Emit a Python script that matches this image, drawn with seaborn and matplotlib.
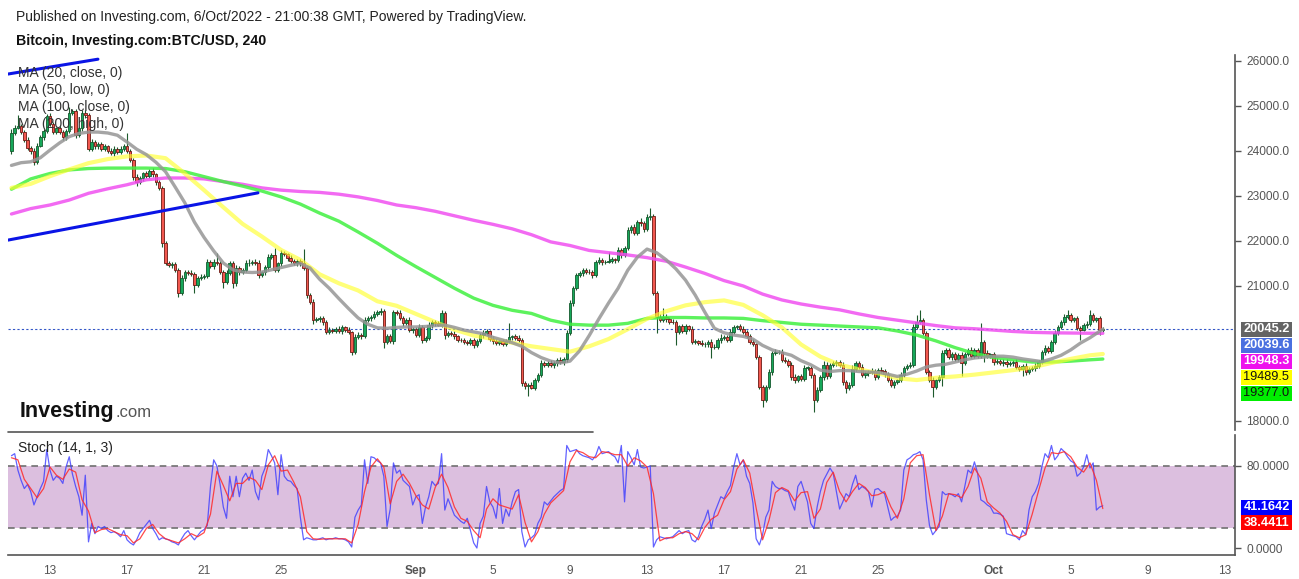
import numpy as np
import pandas as pd
import matplotlib
matplotlib.use("Agg")
import matplotlib.pyplot as plt
import matplotlib.dates as mdates
from matplotlib.patches import Rectangle
from matplotlib.lines import Line2D
import seaborn as sns

# ---------------- DATA ----------------
first_open = 24000
closes = [
    24400, 24520, 24560, 24430, 24250, 24060, 24000, 23760, 24120, 24300,
    24450, 24780, 24600, 24430, 24500, 24420, 24300, 24450, 24850, 24880,
    24350, 24500, 24850, 24800, 24050, 24200, 24100, 24150, 24050, 24100,
    24000, 23950, 24050, 23980, 24050, 24100, 24000, 23800, 23420, 23300,
    23400, 23500, 23450, 23550, 23480, 23300, 23180, 21950, 21510, 21470,
    21480, 21360, 20840, 21180, 21310, 21290, 21270, 21020, 21180, 21210,
    21220, 21530, 21440, 21540, 21520, 21310, 21090, 21290, 21510, 21060,
    21400, 21300, 21360, 21510, 21510, 21540, 21520, 21240, 21300, 21420,
    21640, 21690, 21360, 21500, 21730, 21700, 21620, 21560, 21500, 21550,
    21500, 21400, 20800, 20640, 20240, 20260, 20290, 20200, 19980, 20020,
    20010, 20040, 20000, 20080, 20030, 19970, 19530, 19870, 19920, 19890,
    20240, 20280, 20310, 20380, 20420, 20440, 19760, 19880, 19770, 20420,
    20400, 20290, 20180, 20250, 20020, 20040, 19910, 20090, 19800, 19850,
    20130, 20200, 20170, 20140, 20400, 19910, 19960, 19930, 19880, 19800,
    19790, 19760, 19730, 19790, 19690, 19780, 19900, 19960, 19990, 19820,
    19780, 19730, 19770, 19720, 19770, 19860, 19880, 19850, 19800, 18840,
    18770, 18800, 18740, 18910, 19020, 19290, 19250, 19290, 19240, 19280,
    19360, 19310, 19370, 19950, 20620, 20960, 21240, 21280, 21360, 21320,
    21300, 21240, 21530, 21580, 21530, 21540, 21560, 21590, 21570, 21800,
    21690, 21840, 22240, 22310, 22180, 22420, 22390, 22260, 22530, 22560,
    20840, 20310, 20240, 20320, 20260, 20210, 20190, 19980, 20100, 19990,
    20100, 20050, 19760, 19770, 19730, 19700, 19700, 19760, 19640, 19650,
    19800, 19850, 19860, 19810, 19980, 20090, 20100, 20050, 19980, 19890,
    19760, 19700, 19420, 18760, 18470, 18760, 19090, 19510, 19530, 19540,
    19360, 19340, 19250, 18980, 18900, 18990, 18940, 19180, 19180, 19020,
    18470, 18690, 18980, 19250, 18990, 19250, 19280, 19310, 19250, 18870,
    18730, 18800, 19160, 19290, 19200, 19020, 19060, 19090, 19110, 18980,
    19130, 19100, 19040, 18910, 18800, 18870, 18900, 19030, 19180, 19220,
    19250, 20090, 20200, 20240, 19960, 19090, 18910, 18760, 18900, 18980,
    19510, 19580, 19420, 19480, 19380, 19470, 19290, 19480, 19580, 19450,
    19580, 19450, 19760, 19510, 19450, 19480, 19310, 19340, 19290, 19320,
    19260, 19280, 19310, 19200, 19150, 19220, 19090, 19150, 19180, 19220,
    19310, 19530, 19620, 19560, 19760, 19960, 20090, 20200, 20310, 20360,
    20250, 20280, 20070, 20030, 20130, 20160, 20360, 20250, 20280, 20020, 20045.2,
]
# wick extensions beyond the body, in tens of dollars
wick_up = [
    8, 6, 24, 5, 4, 6, 5, 7, 5, 6,
    4, 5, 6, 5, 4, 6, 5, 4, 13, 6,
    5, 4, 6, 5, 4, 6, 5, 4, 6, 5,
    4, 6, 5, 4, 5, 6, 30, 4, 5, 6,
    5, 4, 6, 5, 7, 4, 5, 4, 5, 4,
    6, 5, 4, 6, 5, 4, 6, 5, 4, 6,
    5, 8, 4, 6, 19, 4, 5, 6, 4, 5,
    6, 5, 4, 6, 10, 4, 5, 6, 4, 5,
    6, 5, 15, 4, 6, 5, 4, 6, 5, 4,
    5, 32, 4, 5, 6, 4, 5, 4, 5, 6,
    4, 5, 6, 5, 4, 5, 4, 6, 5, 4,
    6, 5, 4, 6, 5, 8, 4, 5, 6, 5,
    4, 6, 5, 4, 6, 5, 4, 6, 5, 4,
    6, 5, 4, 6, 7, 5, 4, 5, 6, 4,
    5, 6, 4, 5, 6, 4, 5, 6, 5, 4,
    6, 5, 4, 6, 5, 32, 4, 6, 5, 4,
    5, 4, 6, 5, 4, 6, 5, 4, 6, 5,
    4, 6, 5, 8, 6, 5, 4, 6, 5, 4,
    6, 5, 4, 6, 5, 4, 20, 5, 4, 6,
    5, 4, 8, 5, 6, 4, 9, 5, 6, 17,
    4, 5, 6, 19, 5, 4, 6, 5, 4, 6,
    5, 4, 6, 5, 4, 6, 5, 4, 6, 5,
    4, 8, 5, 4, 6, 5, 4, 6, 5, 4,
    5, 6, 4, 5, 4, 5, 6, 5, 8, 4,
    5, 6, 4, 5, 6, 4, 5, 6, 5, 4,
    5, 6, 4, 8, 5, 4, 6, 5, 4, 5,
    5, 6, 9, 5, 4, 6, 5, 4, 6, 5,
    4, 6, 5, 4, 6, 5, 4, 6, 5, 4,
    5, 6, 16, 23, 5, 4, 5, 6, 4, 5,
    6, 5, 4, 6, 5, 4, 6, 5, 4, 6,
    5, 4, 42, 5, 6, 4, 5, 6, 4, 5,
    6, 5, 4, 6, 5, 4, 6, 5, 4, 6,
    5, 4, 6, 5, 4, 6, 5, 4, 6, 11,
    5, 4, 6, 5, 4, 6, 11, 5, 4, 6, 4,
]
wick_dn = [
    6, 5, 4, 6, 5, 4, 6, 8, 5, 4,
    5, 6, 4, 5, 6, 4, 5, 6, 4, 5,
    6, 4, 5, 6, 5, 4, 6, 5, 4, 6,
    5, 4, 6, 5, 4, 6, 5, 4, 6, 8,
    4, 6, 5, 4, 6, 5, 4, 8, 5, 4,
    6, 5, 9, 4, 6, 5, 4, 18, 5, 4,
    6, 5, 4, 6, 5, 4, 13, 5, 4, 10,
    5, 6, 4, 5, 6, 4, 5, 6, 4, 5,
    6, 5, 4, 6, 5, 4, 6, 5, 4, 6,
    5, 4, 6, 5, 8, 4, 5, 6, 4, 5,
    6, 5, 4, 6, 5, 4, 6, 5, 4, 6,
    5, 4, 6, 5, 4, 6, 14, 5, 4, 6,
    5, 4, 6, 5, 4, 6, 5, 4, 6, 5,
    4, 6, 5, 4, 6, 8, 5, 4, 6, 5,
    4, 6, 5, 4, 6, 5, 4, 6, 5, 4,
    6, 5, 4, 6, 5, 4, 6, 5, 4, 6,
    5, 22, 4, 6, 5, 4, 6, 5, 4, 6,
    5, 4, 6, 5, 4, 6, 5, 4, 6, 5,
    4, 6, 5, 4, 6, 5, 4, 6, 5, 4,
    6, 5, 4, 6, 5, 4, 6, 5, 4, 6,
    4, 35, 5, 4, 6, 5, 4, 29, 5, 4,
    6, 5, 4, 6, 5, 4, 6, 5, 24, 4,
    5, 6, 4, 5, 6, 4, 5, 6, 4, 5,
    6, 4, 5, 6, 16, 5, 4, 6, 5, 4,
    6, 5, 4, 8, 5, 4, 6, 5, 4, 6,
    27, 5, 4, 6, 5, 4, 6, 5, 4, 8,
    11, 5, 4, 6, 5, 4, 6, 5, 4, 6,
    5, 4, 6, 5, 4, 6, 5, 4, 6, 5,
    4, 6, 5, 4, 6, 5, 4, 23, 5, 4,
    20, 5, 4, 6, 5, 4, 30, 5, 4, 6,
    5, 4, 6, 20, 5, 4, 6, 5, 4, 6,
    5, 4, 6, 5, 4, 14, 6, 5, 4, 6,
    5, 4, 6, 5, 4, 6, 5, 4, 6, 5,
    4, 6, 5, 23, 4, 6, 5, 4, 6, 11, 4,
]
# moving averages (daily samples; gray MA20 every 12 h), last value = latest bar
ma200_high = [
    22600, 22720, 22800, 22910, 23060, 23160, 23250, 23360, 23400, 23400,
    23380, 23320, 23260, 23180, 23130, 23100, 23080, 23040, 22980, 22900,
    22800, 22740, 22660, 22560, 22460, 22370, 22270, 22140, 21980, 21900,
    21790, 21740, 21690, 21630, 21550, 21420, 21280, 21120, 21000, 20820,
    20690, 20600, 20530, 20470, 20380, 20300, 20240, 20180, 20120, 20070,
    20050, 20020, 19990, 19970, 19960, 19955, 19950, 19948.3,
]
ma100_close = [
    23150, 23380, 23500, 23580, 23610, 23620, 23620, 23620, 23610, 23540,
    23430, 23320, 23220, 23110, 22980, 22820, 22620, 22440, 22200, 21950,
    21680, 21430, 21190, 20950, 20730, 20570, 20460, 20390, 20240, 20150,
    20130, 20130, 20170, 20280, 20300, 20300, 20290, 20290, 20280, 20230,
    20190, 20150, 20130, 20110, 20090, 20070, 20000, 19910, 19780, 19630,
    19500, 19410, 19360, 19310, 19310, 19330, 19360, 19377.0,
]
ma50_low = [
    23180, 23270, 23440, 23590, 23730, 23820, 23880, 23900, 23840, 23500,
    23130, 22750, 22380, 22100, 21800, 21580, 21260, 21060, 20900, 20660,
    20560, 20380, 20200, 20030, 19900, 19820, 19740, 19660, 19600, 19540,
    19660, 19820, 20040, 20270, 20440, 20570, 20640, 20680, 20580, 20350,
    20080, 19700, 19430, 19250, 19150, 19060, 18950, 18910, 18960, 18990,
    19030, 19080, 19130, 19190, 19290, 19380, 19460, 19489.5,
]
ma20_close = [
    23680, 23740, 23760, 23850, 24020, 24180, 24320, 24390, 24420, 24420,
    24400, 24350, 24200, 24040, 23920, 23750, 23540, 23200, 22850, 22420,
    22080, 21780, 21510, 21360, 21310, 21300, 21310, 21360, 21410, 21460,
    21500, 21400, 21150, 20950, 20720, 20500, 20290, 20150, 20070, 20060,
    20080, 20090, 20090, 20100, 20120, 20130, 20080, 20020, 19980, 19940,
    19860, 19800, 19740, 19660, 19520, 19410, 19330, 19290, 19330, 19560,
    19900, 20270, 20620, 20950, 21350, 21640, 21820, 21740, 21580, 21380,
    21130, 20800, 20420, 20060, 19960, 19910, 19880, 19820, 19680, 19580,
    19520, 19460, 19340, 19250, 19130, 19100, 19120, 19120, 19100, 19090,
    19080, 19040, 18990, 19040, 19110, 19200, 19240, 19260, 19310, 19360,
    19400, 19420, 19440, 19440, 19420, 19380, 19350, 19320, 19380, 19460,
    19580, 19730, 19850, 20039.6,
]
# drawn trend lines (start/end time, price)
trend1_t = ["2022-08-10 19:40", "2022-08-23 19:10"]
trend1_p = [22020, 23070]
trend2_t = ["2022-08-10 19:40", "2022-08-15 11:45"]
trend2_p = [25710, 26040]
# Stochastic (14, 1, 3): %K per bar, %D every second bar
stoch_k = [
    90, 92, 76, 66, 58, 62, 55, 42, 50, 58,
    65, 96, 76, 66, 70, 68, 63, 79, 89, 72,
    60, 50, 32, 71, 6, 24, 14, 21, 19, 21,
    17, 15, 16, 14, 11, 17, 8, 5, 3, 8,
    15, 19, 23, 27, 19, 14, 8, 10, 9, 8,
    6, 5, 3, 9, 14, 17, 12, 8, 12, 16,
    18, 22, 60, 86, 80, 62, 40, 29, 70, 50,
    70, 50, 68, 73, 66, 76, 55, 47, 70, 78,
    96, 90, 83, 52, 91, 70, 66, 65, 61, 58,
    30, 8, 10, 9, 8, 8, 9, 10, 8, 9,
    9, 10, 9, 9, 8, 6, 1, 30, 37, 42,
    86, 63, 89, 88, 85, 83, 70, 21, 38, 83,
    73, 76, 66, 63, 60, 42, 50, 52, 24, 40,
    50, 65, 61, 63, 92, 37, 48, 40, 32, 29,
    26, 24, 29, 17, 5, 0, 24, 31, 60, 45,
    40, 29, 58, 24, 38, 31, 45, 55, 57, 16,
    1, 8, 10, 13, 24, 30, 45, 42, 46, 50,
    53, 56, 58, 100, 94, 95, 96, 92, 90, 89,
    88, 86, 90, 99, 92, 93, 94, 91, 89, 83,
    100, 45, 94, 88, 81, 96, 79, 78, 79, 80,
    1, 8, 11, 10, 9, 10, 11, 14, 17, 14,
    16, 17, 8, 6, 11, 21, 28, 37, 19, 34,
    42, 50, 48, 55, 61, 79, 92, 81, 86, 70,
    63, 44, 9, 3, 13, 30, 37, 65, 60, 58,
    58, 56, 55, 45, 37, 60, 65, 55, 45, 24,
    19, 40, 55, 66, 72, 78, 73, 55, 38, 45,
    53, 50, 62, 71, 57, 60, 58, 55, 40, 57,
    58, 55, 53, 40, 27, 30, 31, 37, 76, 86,
    88, 91, 92, 94, 86, 47, 22, 13, 17, 21,
    55, 52, 53, 52, 50, 53, 45, 60, 76, 73,
    84, 73, 47, 45, 42, 40, 34, 34, 33, 31,
    14, 13, 12, 11, 8, 17, 13, 37, 50, 55,
    63, 79, 92, 88, 100, 86, 90, 97, 94, 89,
    85, 83, 70, 73, 79, 91, 78, 83, 37, 40, 41.1642,
]
stoch_d = [
    88, 86, 67, 58, 49, 58, 79, 71, 67, 77,
    74, 47, 36, 15, 18, 19, 16, 13, 12, 5,
    9, 19, 23, 14, 9, 7, 5, 9, 14, 11,
    15, 33, 75, 61, 46, 63, 63, 69, 66, 57,
    81, 90, 75, 76, 64, 50, 16, 9, 8.5, 9,
    9, 9, 9, 5, 23, 55, 79, 87, 79, 43,
    65, 72, 63, 51, 42, 38, 59, 72, 59, 40,
    29, 26, 17, 10, 38, 48, 42, 40, 38, 52,
    25, 6, 16, 33, 44, 50, 56, 84, 95, 93,
    89, 88, 94, 93, 91, 91, 80, 88, 85, 79,
    53, 7, 10, 10, 14, 16, 14, 8, 20, 28,
    32, 47, 55, 77, 86, 73, 39, 8, 27, 54,
    59, 56, 46, 54, 55, 29, 38, 64, 74, 55,
    45, 55, 63, 59, 51, 52, 55, 40, 29, 48,
    83, 90, 91, 52, 17, 31, 53, 52, 49, 60,
    78, 68, 45, 39, 34, 26, 13, 10, 13, 33,
    56, 78, 93, 92, 94, 89, 79, 74, 83, 66, 38.4411,
]
price_ticks = [18000, 21000, 22000, 23000, 24000, 25000, 26000]
stoch_ticks = [0, 80]
x_tick_dates = ["2022-08-13", "2022-08-17", "2022-08-21", "2022-08-25", "2022-09-01",
                "2022-09-05", "2022-09-09", "2022-09-13", "2022-09-17", "2022-09-21",
                "2022-09-25", "2022-10-01", "2022-10-05", "2022-10-09", "2022-10-13"]
x_tick_labels = ["13", "17", "21", "25", "Sep", "5", "9", "13", "17", "21", "25",
                 "Oct", "5", "9", "13"]
ma_labels = ["MA (20, close, 0)", "MA (50, low, 0)", "MA (100, close, 0)", "MA (200, high, 0)"]

# ---------------- derived series ----------------
closes_a = np.array(closes, dtype=float)
opens_a = np.concatenate([[first_open], closes_a[:-1]])
highs_a = np.maximum(opens_a, closes_a) + np.array(wick_up) * 10
lows_a = np.minimum(opens_a, closes_a) - np.array(wick_dn) * 10
bar_times = pd.date_range("2022-08-11 00:00", periods=len(closes), freq="4h")
t_bar = mdates.date2num(bar_times.to_pydatetime())
last_t = bar_times[-1]
day_times = pd.date_range("2022-08-11", periods=len(ma200_high) - 1, freq="D").append(pd.DatetimeIndex([last_t]))
half_times = pd.date_range("2022-08-11", periods=len(ma20_close) - 1, freq="12h").append(pd.DatetimeIndex([last_t]))
t_day = mdates.date2num(day_times.to_pydatetime())
t_half = mdates.date2num(half_times.to_pydatetime())
t_d = t_bar[::2]

# ---------------- figure ----------------
sns.set_style("white")
plt.rcParams["font.family"] = ["Liberation Sans", "DejaVu Sans"]

W, H = 1299, 579
fig = plt.figure(figsize=(W / 100, H / 100), dpi=100)
fig.patch.set_facecolor("white")


def fx(px):
    return px / W


def fy(py):
    return 1 - py / H


ax = fig.add_axes([fx(8), fy(430), fx(1235) - fx(8), fy(55) - fy(430)])
axs = fig.add_axes([fx(8), fy(555), fx(1235) - fx(8), fy(435) - fy(555)])

t0 = mdates.date2num(pd.Timestamp("2022-08-11").to_pydatetime())
xlim = (t0 - 0.18, t0 + 63.53)

# candles
up = closes_a >= opens_a
body_bottom = np.minimum(opens_a, closes_a)
body_h = np.maximum(np.abs(closes_a - opens_a), 12)
ax.vlines(t_bar, lows_a, highs_a, color="#1d5a2c", lw=0.8, zorder=2)
ax.bar(t_bar, body_h, bottom=body_bottom, width=0.13,
       color=np.where(up, "#16a85a", "#f2584f"),
       edgecolor=np.where(up, "#155a2e", "#6b1a14"), linewidth=0.6, zorder=3)

# moving averages
sns.lineplot(x=t_day, y=ma200_high, ax=ax, color="#f050f0", lw=2.4, alpha=0.85, zorder=4)
sns.lineplot(x=t_day, y=ma100_close, ax=ax, color="#40f040", lw=2.4, alpha=0.85, zorder=4)
sns.lineplot(x=t_day, y=ma50_low, ax=ax, color="#ffff30", lw=3.0, alpha=0.65, zorder=5)
sns.lineplot(x=t_half, y=ma20_close, ax=ax, color="#969696", lw=2.4, alpha=0.85, zorder=5)

# trend lines
for tt, pp in [(trend1_t, trend1_p), (trend2_t, trend2_p)]:
    tnum = mdates.date2num(pd.to_datetime(tt).to_pydatetime())
    sns.lineplot(x=tnum, y=pp, ax=ax, color="#0a14e6", lw=2.2, zorder=6)

ax.axhline(closes_a[-1], color="#3457c8", lw=0.8, ls=(0, (2, 2)), zorder=1)

ax.set_xlim(*xlim)
ax.set_ylim(17800, 26133)
ax.set_xlabel("")
ax.set_ylabel("")
ax.set_xticks([])
ax.yaxis.tick_right()
ax.set_yticks(price_ticks)
ax.set_yticklabels([f"{v:.1f}" for v in price_ticks])
ax.tick_params(axis="y", direction="out", length=4, width=1, color="#555555",
               labelcolor="#555555", labelsize=8.6, pad=4, right=True, left=False)
for s in ["left", "top", "bottom"]:
    ax.spines[s].set_visible(False)
ax.spines["right"].set_color("#555555")
ax.spines["right"].set_linewidth(1.2)

# stochastic panel
axs.axhspan(20, 80, color="#dcbfdf", zorder=0, lw=0)
for lvl in (20, 80):
    axs.axhline(lvl, color="#707070", lw=1.2, ls=(0, (4, 3)), zorder=1)
sns.lineplot(x=t_bar, y=stoch_k, ax=axs, color="#3b3bff", lw=0.9, alpha=0.8, zorder=3)
sns.lineplot(x=t_d, y=stoch_d, ax=axs, color="#ff2a2a", lw=0.9, alpha=0.85, zorder=4)
axs.set_xlim(*xlim)
axs.set_ylim(-6.8, 110.2)
axs.set_xlabel("")
axs.set_ylabel("")
axs.yaxis.tick_right()
axs.set_yticks(stoch_ticks)
axs.set_yticklabels([f"{v:.4f}" for v in stoch_ticks])
tick_nums = mdates.date2num(pd.to_datetime(x_tick_dates).to_pydatetime())
axs.set_xticks(tick_nums)
axs.set_xticklabels(x_tick_labels)
for lab in axs.get_xticklabels():
    if lab.get_text() in ("Sep", "Oct"):
        lab.set_fontweight("bold")
axs.tick_params(axis="both", direction="out", length=4, width=1, color="#555555",
                labelcolor="#555555", labelsize=8.6, pad=3)
axs.tick_params(axis="y", right=True, left=False, pad=4)
for s in ["left", "top"]:
    axs.spines[s].set_visible(False)
for s in ["right", "bottom"]:
    axs.spines[s].set_color("#555555")
    axs.spines[s].set_linewidth(1.2)

# partial separator line under the price panel
fig.add_artist(Line2D([fx(8), fx(593)], [fy(432), fy(432)], color="#555555", lw=1.2))

# header texts
fig.text(fx(16), fy(17), "Published on Investing.com, 6/Oct/2022 - 21:00:38 GMT, Powered by TradingView.",
         fontsize=10, va="center", ha="left", color="#222222")
fig.text(fx(16), fy(41), "Bitcoin, Investing.com:BTC/USD, 240",
         fontsize=10.2, fontweight="bold", va="center", ha="left", color="#111111")
for k, lab in enumerate(ma_labels):
    fig.text(fx(18), fy(73 + 17 * k), lab, fontsize=10, va="center", ha="left", color="#333333", zorder=10)
fig.text(fx(18), fy(448), "Stoch (14, 1, 3)", fontsize=10, va="center", ha="left", color="#222222")

# Investing.com logo
logo = fig.text(fx(20), fy(417), "Investing", fontsize=15.5, fontweight="bold",
                va="baseline", ha="left", color="#111111")
fig.canvas.draw()
bb = logo.get_window_extent(renderer=fig.canvas.get_renderer())
fig.text(bb.x1 / W + fx(1), fy(417), ".com", fontsize=12, va="baseline", ha="left", color="#555555")


def badge(yc, text, bg, fg, bold=True):
    fig.add_artist(Rectangle((fx(1241), fy(yc + 7.5)), fx(1292) - fx(1241), 15 / H,
                             transform=fig.transFigure, facecolor=bg, edgecolor="none", zorder=8))
    fig.text(fx(1266.5), fy(yc), text, ha="center", va="center", color=fg, fontsize=9.2,
             fontweight="bold" if bold else "normal", zorder=9)


badge(329.5, f"{closes_a[-1]:.1f}", "#646464", "white")
badge(345, f"{ma20_close[-1]:.1f}", "#4a70e0", "white")
badge(361, f"{ma200_high[-1]:.1f}", "#ee10ee", "white")
badge(377.5, f"{ma50_low[-1]:.1f}", "#ffff00", "#111111", bold=False)
badge(393.5, f"{ma100_close[-1]:.1f}", "#00ee00", "#111111", bold=False)
badge(507, f"{stoch_k[-1]:.4f}", "#0000ff", "white")
badge(522.5, f"{stoch_d[-1]:.4f}", "#ff0000", "white")

fig.savefig("out.png", dpi=100, facecolor="white")
